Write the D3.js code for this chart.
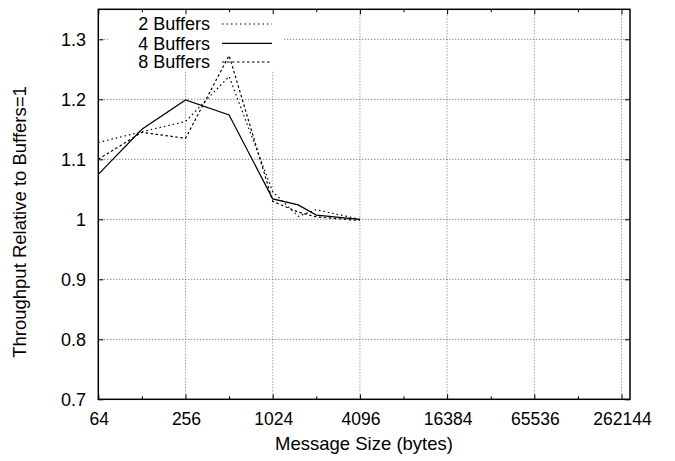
<!DOCTYPE html>
<html><head><meta charset="utf-8">
<script src="https://cdn.jsdelivr.net/npm/d3@7"></script>
<style>body{margin:0;background:#fff}svg{display:block}text{font-family:"Liberation Sans",Arial,sans-serif;fill:#000}</style>
</head><body><svg id="c" width="675" height="461"></svg>
<script>
const messageSizes = [64, 128, 256, 512, 1024, 1536, 2048, 4096];
const buffers2 = [1.128, 1.146, 1.163, 1.238, 1.046, 1.005, 1.016, 1.000];
const buffers4 = [1.075, 1.150, 1.199, 1.174, 1.034, 1.024, 1.007, 1.000];
const buffers8 = [1.100, 1.145, 1.135, 1.273, 1.030, 1.012, 1.004, 0.998];
const xTicks = [64, 256, 1024, 4096, 16384, 65536, 262144];
const xMinorTicks = [128, 512, 2048, 8192, 32768, 131072];
const yTicks = [0.7, 0.8, 0.9, 1.0, 1.1, 1.2, 1.3];
const yTickLabels = ["0.7", "0.8", "0.9", "1", "1.1", "1.2", "1.3"];
const seriesNames = ["2 Buffers", "4 Buffers", "8 Buffers"];

const L = 98.3, R = 630, T = 9.3, B = 399.3;
const svg = d3.select("#c");
const x = d3.scaleLog().base(2).domain([64, 300000]).range([L, R]);
const y = d3.scaleLinear().domain([0.7, 1.35]).range([B, T]);

// grid
const grid = svg.append("g");
grid.selectAll("line.v").data(xTicks.slice(1)).enter().append("line")
  .attr("x1", d => x(d)).attr("x2", d => x(d)).attr("y1", T).attr("y2", B)
  .attr("stroke", "#777").attr("stroke-width", 1).attr("stroke-dasharray", "1,2");
grid.selectAll("line.h").data(yTicks.slice(1)).enter().append("line")
  .attr("x1", L).attr("x2", R).attr("y1", d => y(d)).attr("y2", d => y(d))
  .attr("stroke", "#555").attr("stroke-width", 1).attr("stroke-dasharray", "1,2");

// key background
svg.append("rect").attr("x", 108).attr("y", T + 1).attr("width", 175).attr("height", 60).attr("fill", "#fff");

// axes (ticks inward, mirrored)
svg.append("g").attr("transform", `translate(0,${B})`)
  .call(d3.axisTop(x).tickValues(xTicks).tickSize(5).tickFormat(""))
  .call(g => g.select(".domain").remove());
svg.append("g").attr("transform", `translate(0,${B})`)
  .call(d3.axisTop(x).tickValues(xMinorTicks).tickSize(3).tickFormat(""))
  .call(g => g.select(".domain").remove());
svg.append("g").attr("transform", `translate(0,${T})`)
  .call(d3.axisBottom(x).tickValues(xTicks).tickSize(5).tickFormat(""))
  .call(g => g.select(".domain").remove());
svg.append("g").attr("transform", `translate(0,${T})`)
  .call(d3.axisBottom(x).tickValues(xMinorTicks).tickSize(3).tickFormat(""))
  .call(g => g.select(".domain").remove());
svg.append("g").attr("transform", `translate(${L},0)`)
  .call(d3.axisRight(y).tickValues(yTicks).tickSize(5).tickFormat(""))
  .call(g => g.select(".domain").remove());
svg.append("g").attr("transform", `translate(${R},0)`)
  .call(d3.axisLeft(y).tickValues(yTicks).tickSize(5).tickFormat(""))
  .call(g => g.select(".domain").remove());
svg.selectAll(".tick line").attr("stroke", "#000").attr("stroke-width", 1);

// tick labels
svg.append("g").selectAll("text").data(xTicks).enter().append("text")
  .attr("x", d => x(d) + 1).attr("y", 425).attr("text-anchor", "middle")
  .attr("font-size", 17.5).text(d => d);
svg.append("g").selectAll("text").data(yTicks).enter().append("text")
  .attr("x", 86).attr("y", d => y(d)).attr("dy", "0.35em").attr("text-anchor", "end")
  .attr("font-size", 18).text((d, i) => yTickLabels[i]);

// titles
svg.append("text").attr("x", 364).attr("y", 450).attr("text-anchor", "middle")
  .attr("font-size", 18.5).text("Message Size (bytes)");
svg.append("text").attr("transform", "translate(20,222) rotate(-90)").attr("dy", "0.35em")
  .attr("text-anchor", "middle").attr("font-size", 18.5).text("Throughput Relative to Buffers=1");

// series
const dashes = ["1.5,3", null, "2.5,2.5"];
const series = [buffers2, buffers4, buffers8];
const line = d3.line().x((d, i) => x(messageSizes[i])).y(d => y(d));
series.forEach((s, k) => {
  svg.append("path").datum(s).attr("d", line).attr("fill", "none")
    .attr("stroke", "#000").attr("stroke-width", 1.2)
    .attr("stroke-dasharray", dashes[k]);
});

// key
const keyRows = [24, 43.3, 62];
seriesNames.forEach((n, k) => {
  svg.append("text").attr("x", 210).attr("y", keyRows[k]).attr("dy", "0.35em")
    .attr("text-anchor", "end").attr("font-size", 18).text(n);
  svg.append("line").attr("x1", 222).attr("x2", 272).attr("y1", keyRows[k]).attr("y2", keyRows[k])
    .attr("stroke", "#000").attr("stroke-width", 1.2).attr("stroke-dasharray", dashes[k]);
});

// border
svg.append("rect").attr("x", L).attr("y", T).attr("width", R - L).attr("height", B - T)
  .attr("fill", "none").attr("stroke", "#000").attr("stroke-width", 1.5);
</script></body></html>
